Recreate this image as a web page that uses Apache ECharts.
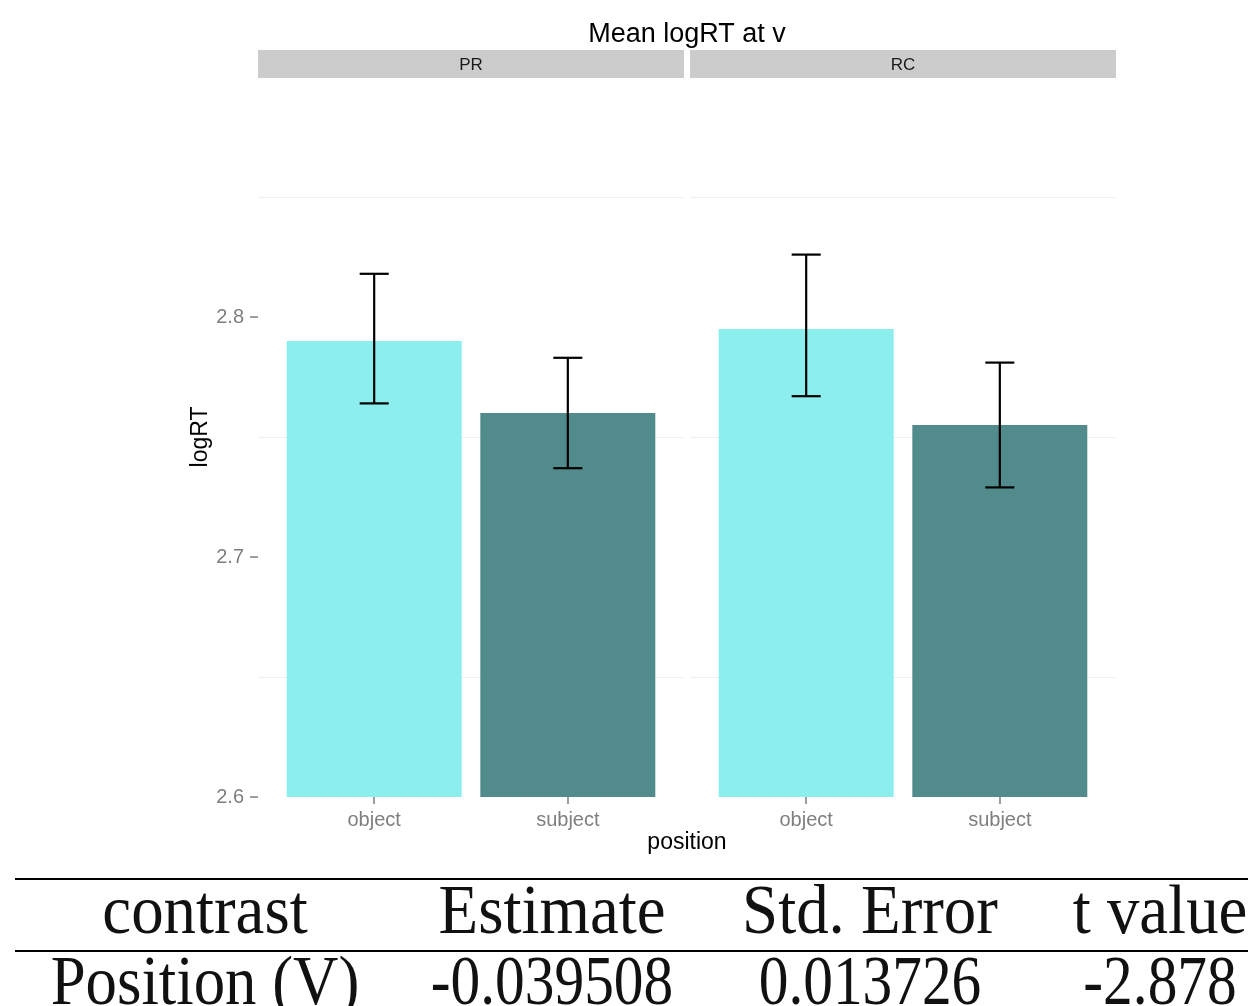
<!DOCTYPE html>
<html>
<head>
<meta charset="utf-8">
<script src="https://cdn.jsdelivr.net/npm/echarts@6/dist/echarts.min.js"></script>
<style>
html,body{margin:0;padding:0;background:#fff;}
#chart{width:1248px;height:1006px;}
</style>
</head>
<body>
<div id="chart"></div>
<script>
// ---- data ----
const chartTitle = 'Mean logRT at v';
const panels = ['PR', 'RC'];
const categories = ['object', 'subject'];
const categoryPos = [1, 2];
const meanPR = [2.790, 2.760];
const lowPR = [2.764, 2.737];
const highPR = [2.818, 2.783];
const meanRC = [2.795, 2.755];
const lowRC = [2.767, 2.729];
const highRC = [2.826, 2.781];
const yTicks = [2.6, 2.7, 2.8];
const yMinor = [2.65, 2.75, 2.85];
const yTitle = 'logRT';
const xTitle = 'position';
const tableHeader = ['contrast', 'Estimate', 'Std. Error', 't value'];
const tableRow = ['Position (V)', '-0.039508', '0.013726', '-2.878'];

// ---- styles / layout ----
const catColors = ['#8DEEEE', '#528B8B'];
const sans = '"Liberation Sans", Arial, Helvetica, sans-serif';
const serif = '"Liberation Serif", "Times New Roman", serif';
const gridLefts = [258, 690];
const gridTop = 77, gridH = 720, gridW = 426;
const capHalf = 0.075;

const means = [meanPR, meanRC];
const lows = [lowPR, lowRC];
const highs = [highPR, highRC];

const grids = [], xAxes = [], yAxes = [], series = [];
panels.forEach((p, i) => {
  grids.push({left: gridLefts[i], top: gridTop, width: gridW, height: gridH, containLabel: false});
  xAxes.push({
    gridIndex: i, type: 'value', min: 0.4, max: 2.6,
    axisLine: {show: false},
    splitLine: {show: false},
    axisTick: {show: true, length: 7, customValues: categoryPos, lineStyle: {color: '#7f7f7f', width: 1.5}},
    axisLabel: {show: true, customValues: categoryPos, margin: 13, color: '#7f7f7f', fontSize: 20, fontFamily: sans,
      formatter: v => categories[Math.round(v) - 1] || ''}
  });
  yAxes.push({
    gridIndex: i, type: 'value', min: 2.6, max: 2.9, interval: 0.1,
    axisLine: {show: false},
    splitLine: {show: false},
    axisTick: {show: i === 0, length: 8, customValues: yTicks, lineStyle: {color: '#7f7f7f', width: 1.5}},
    axisLabel: {show: i === 0, customValues: yTicks, margin: 14, color: '#7f7f7f', fontSize: 20, fontFamily: sans,
      formatter: v => v.toFixed(1)}
  });
  series.push({
    type: 'bar', xAxisIndex: i, yAxisIndex: i, barWidth: 175, z: 2, clip: true,
    data: categoryPos.map((x, k) => ({value: [x, means[i][k]], itemStyle: {color: catColors[k]}})),
    markLine: {
      silent: true, symbol: 'none', z: 1, animation: false,
      label: {show: false},
      lineStyle: {color: '#efefef', type: 'solid', width: 1.2},
      data: yMinor.map(v => ({yAxis: v}))
    },
    animation: false
  });
  series.push({
    type: 'custom', xAxisIndex: i, yAxisIndex: i, z: 3, clip: false, animation: false,
    data: categoryPos.map((x, k) => [x, lows[i][k], highs[i][k]]),
    renderItem: function (params, api) {
      const x = api.value(0), lo = api.value(1), hi = api.value(2);
      const top = api.coord([x, hi]), bot = api.coord([x, lo]);
      const tl = api.coord([x - capHalf, hi]), tr = api.coord([x + capHalf, hi]);
      const bl = api.coord([x - capHalf, lo]), br = api.coord([x + capHalf, lo]);
      const st = {stroke: '#000', lineWidth: 2.2};
      return {type: 'group', children: [
        {type: 'line', shape: {x1: top[0], y1: top[1], x2: bot[0], y2: bot[1]}, style: st},
        {type: 'line', shape: {x1: tl[0], y1: tl[1], x2: tr[0], y2: tr[1]}, style: st},
        {type: 'line', shape: {x1: bl[0], y1: bl[1], x2: br[0], y2: br[1]}, style: st}
      ]};
    }
  });
});

const graphics = [];
// title
graphics.push({type: 'text', x: 687, y: 35, style: {text: chartTitle, font: '27px ' + sans, fill: '#000', textAlign: 'center', textVerticalAlign: 'middle'}});
// strips
panels.forEach((p, i) => {
  graphics.push({type: 'rect', shape: {x: gridLefts[i], y: 50, width: gridW, height: 28}, style: {fill: '#cccccc'}});
  graphics.push({type: 'text', x: gridLefts[i] + gridW / 2, y: 65, style: {text: p, font: '17px ' + sans, fill: '#1a1a1a', textAlign: 'center', textVerticalAlign: 'middle'}});
});
// axis titles
graphics.push({type: 'text', x: 201, y: 437, rotation: Math.PI / 2, style: {text: yTitle, font: '23px ' + sans, fill: '#000', textAlign: 'center', textVerticalAlign: 'middle'}});
graphics.push({type: 'text', x: 687, y: 843, style: {text: xTitle, font: '23px ' + sans, fill: '#000', textAlign: 'center', textVerticalAlign: 'middle'}});
// table
const colCenters = [205, 552, 870, 1160];
const rowScale = [0.91, 0.86, 0.86, 0.86];
graphics.push({type: 'line', shape: {x1: 15, y1: 879, x2: 1248, y2: 879}, style: {stroke: '#000', lineWidth: 2.2}});
graphics.push({type: 'line', shape: {x1: 15, y1: 951, x2: 1248, y2: 951}, style: {stroke: '#000', lineWidth: 2.2}});
tableHeader.forEach((t, j) => {
  graphics.push({type: 'text', x: colCenters[j], y: 915, scaleX: 0.94, style: {text: t, font: '69px ' + serif, fill: '#111', textAlign: 'center', textVerticalAlign: 'middle'}});
});
tableRow.forEach((t, j) => {
  graphics.push({type: 'text', x: colCenters[j], y: 986, scaleX: rowScale[j], style: {text: t, font: '69px ' + serif, fill: '#111', textAlign: 'center', textVerticalAlign: 'middle'}});
});

const chart = echarts.init(document.getElementById('chart'), null, {renderer: 'canvas'});
chart.setOption({
  backgroundColor: '#ffffff',
  animation: false,
  grid: grids,
  xAxis: xAxes,
  yAxis: yAxes,
  series: series,
  graphic: graphics
});
</script>
</body>
</html>
